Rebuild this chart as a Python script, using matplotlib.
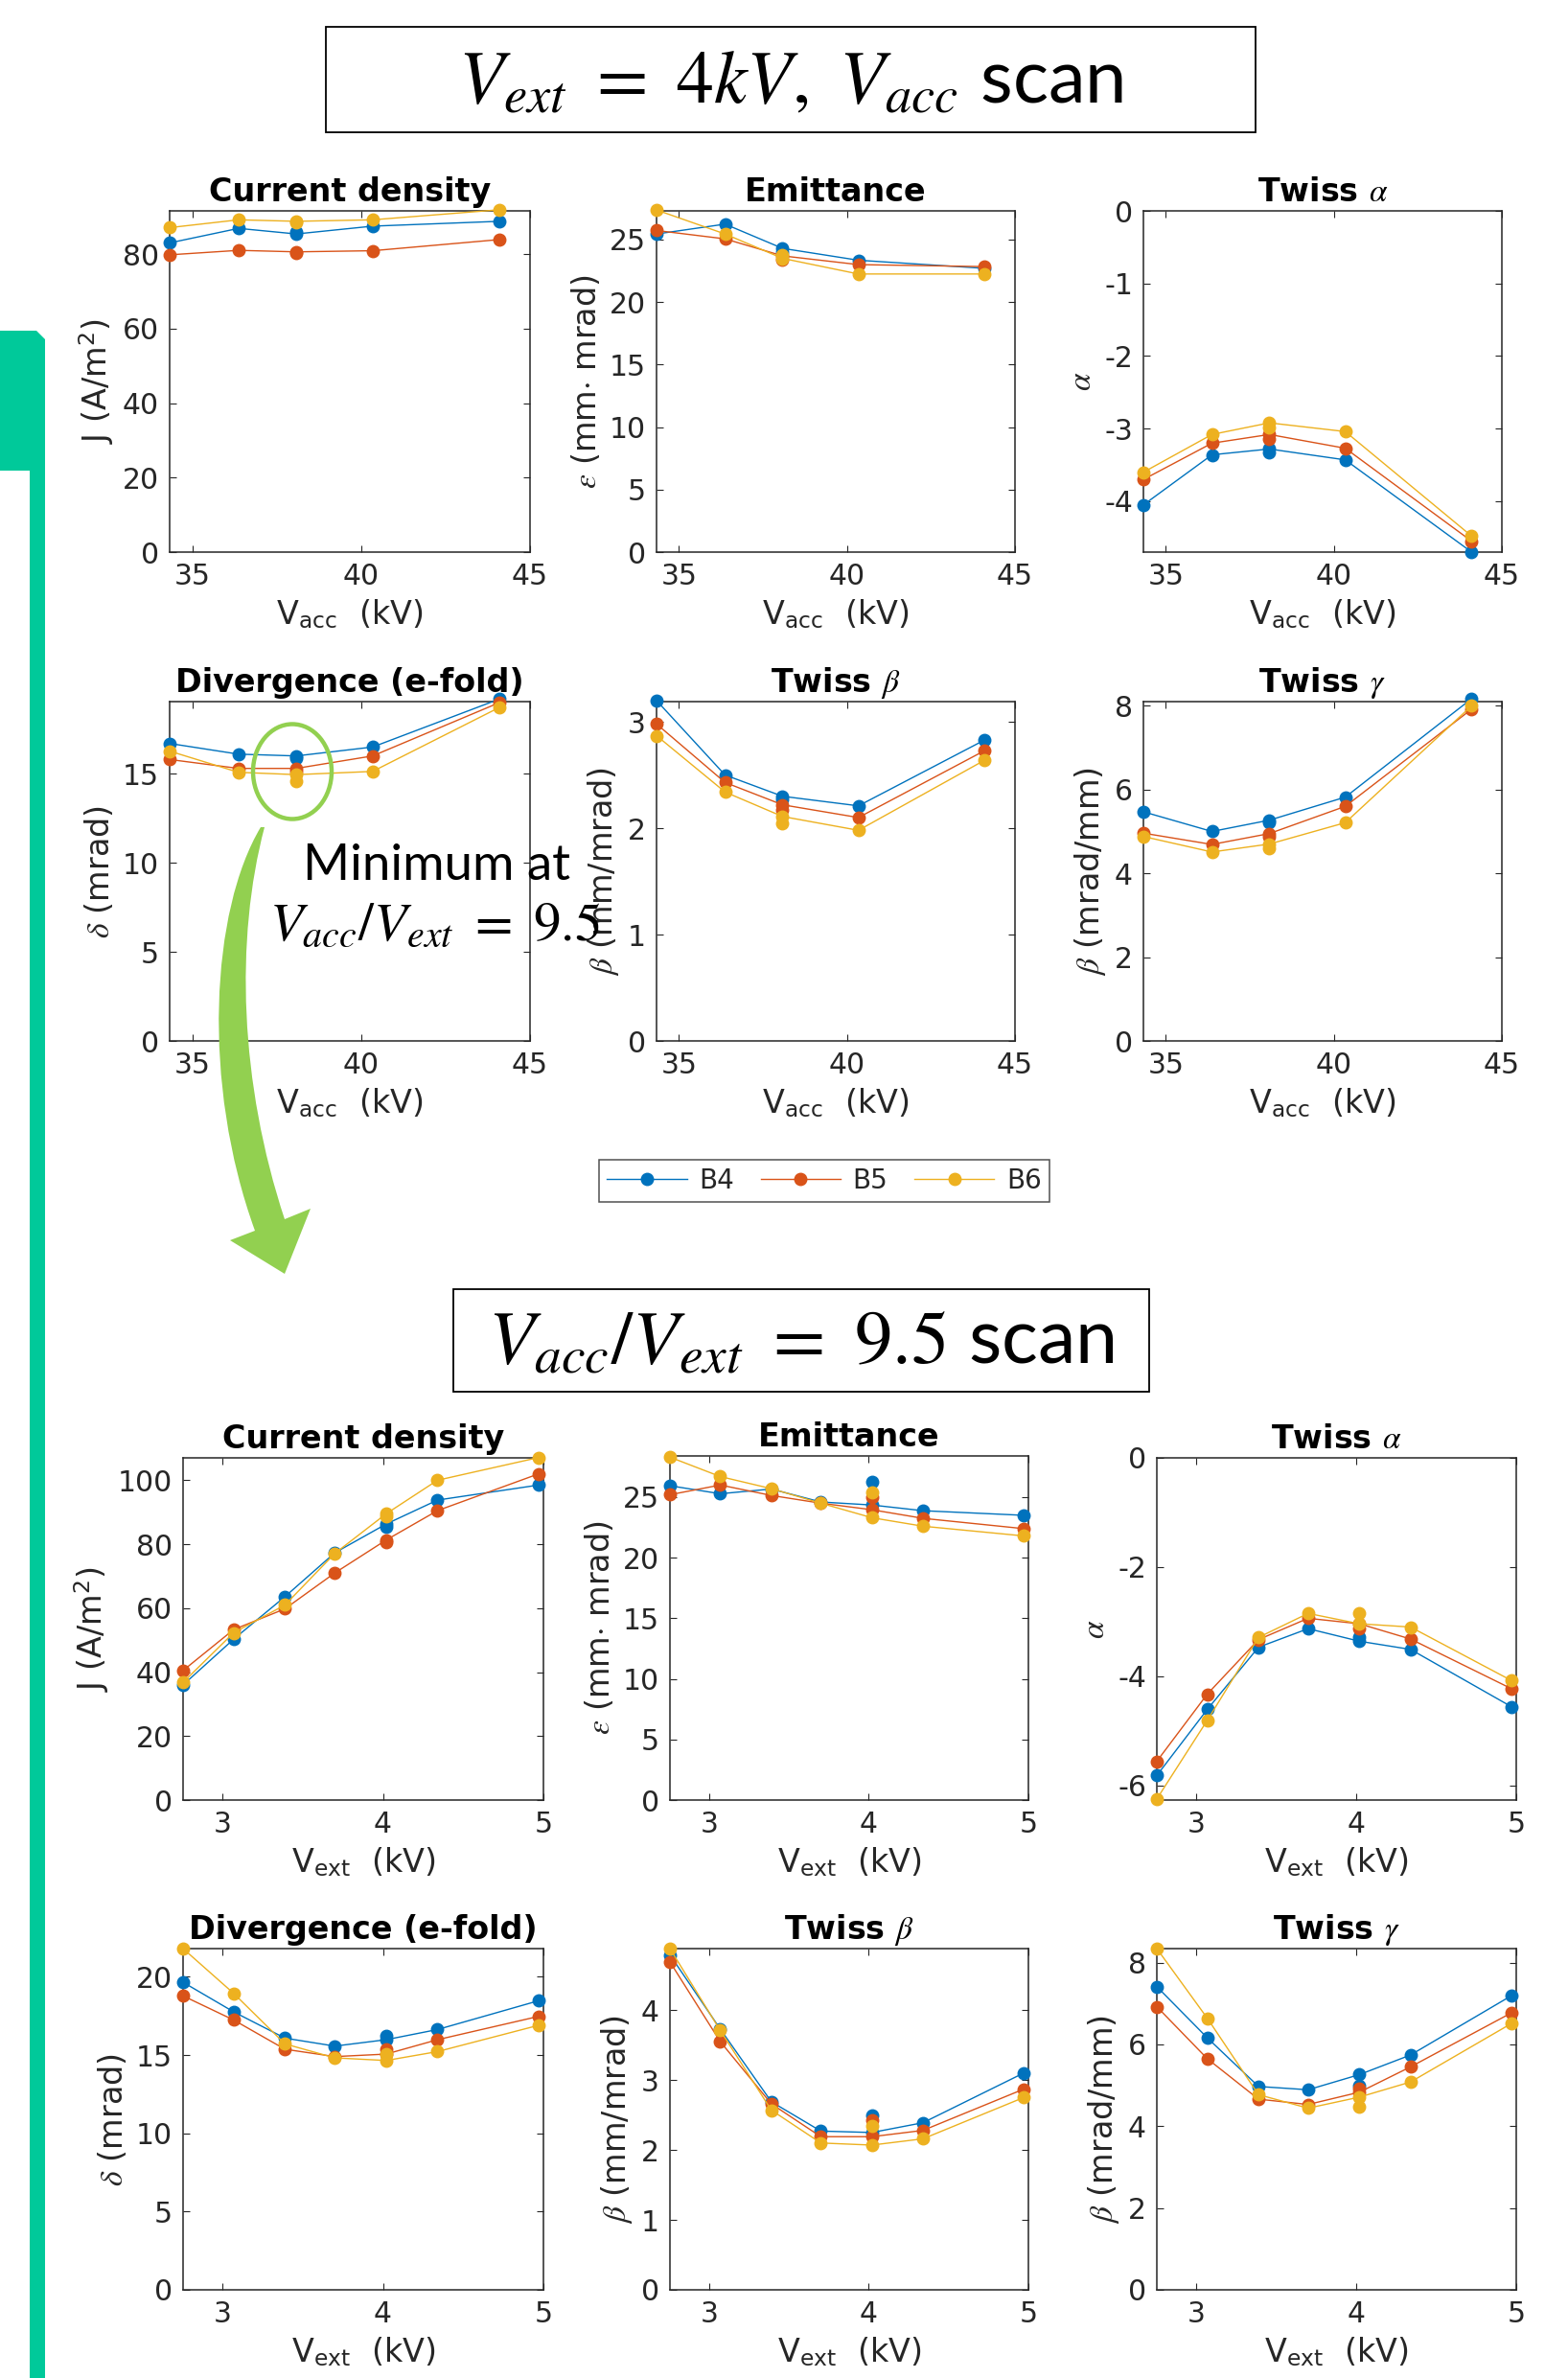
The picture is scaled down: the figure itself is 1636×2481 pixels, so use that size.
import matplotlib
matplotlib.use('Agg')
import matplotlib.pyplot as plt
from matplotlib.patches import Rectangle, Ellipse, PathPatch
from matplotlib.path import Path
from matplotlib.lines import Line2D

W, H = 1636, 2481
plt.rcParams['font.family'] = ['DejaVu Sans']
plt.rcParams['mathtext.fontset'] = 'stix'
plt.rcParams['axes.unicode_minus'] = False

series = ['B4', 'B5', 'B6']
colors = ['#0072BD', '#D95319', '#EDB120']

# ---------------- Vext = 4 kV, Vacc scan ----------------
vacc = [34.33, 36.37, 38.08, 40.34, 44.1]
vacc_rep_idx = 2
j_top = [[83.0, 86.9, 85.4, 87.5, 88.8], [79.8, 81.0, 80.6, 80.9, 83.9], [87.1, 89.2, 88.8, 89.2, 91.9]]
j_top_rep = [85.9, 80.4, 88.5]
em_top = [[25.45, 26.24, 24.3, 23.35, 22.7], [25.73, 25.06, 23.7, 23.0, 22.84], [27.37, 25.45, 23.5, 22.25, 22.25]]
em_top_rep = [24.0, 23.4, 23.75]
al_top = [[-4.05, -3.36, -3.28, -3.43, -4.7], [-3.7, -3.2, -3.08, -3.27, -4.55], [-3.6, -3.08, -2.92, -3.04, -4.48]]
al_top_rep = [-3.33, -3.14, -2.98]
dv_top = [[16.7, 16.1, 16.0, 16.5, 19.2], [15.8, 15.3, 15.3, 16.0, 19.0], [16.27, 15.08, 14.95, 15.13, 18.73]]
dv_top_rep = [15.85, 15.1, 14.6]
be_top = [[3.2, 2.5, 2.3, 2.21, 2.83], [2.98, 2.43, 2.22, 2.1, 2.73], [2.87, 2.34, 2.11, 1.98, 2.64]]
be_top_rep = [2.27, 2.17, 2.05]
ga_top = [[5.47, 5.0, 5.27, 5.82, 8.17], [4.96, 4.69, 4.95, 5.6, 7.92], [4.88, 4.51, 4.7, 5.21, 8.0]]
ga_top_rep = [5.22, 4.87, 4.6]

# ---------------- Vacc/Vext = 9.5 scan ----------------
vext = [2.755, 3.07, 3.39, 3.70, 4.02, 4.34, 4.97]
vext_rep_idx = 4
j_bot = [[36, 50.3, 63.6, 77.3, 86.3, 93.8, 98.5], [40.5, 53.3, 59.8, 71, 81.3, 90.5, 102], [36.8, 52.3, 61, 77.1, 89.5, 100, 107.1]]
j_bot_rep = [85.3, 80.5, 88.8]
em_bot = [[25.94, 25.28, 25.67, 24.6, 24.35, 23.88, 23.5], [25.2, 26.0, 25.14, 24.5, 23.96, 23.25, 22.4], [28.3, 26.7, 25.7, 24.5, 23.3, 22.6, 21.8]]
em_bot_rep = [26.25, 25.0, 25.4]
al_bot = [[-5.82, -4.61, -3.47, -3.13, -3.36, -3.51, -4.56], [-5.56, -4.33, -3.33, -2.94, -3.04, -3.32, -4.23], [-6.25, -4.81, -3.29, -2.85, -3.04, -3.1, -4.08]]
al_bot_rep = [-3.28, -3.13, -2.85]
dv_bot = [[19.65, 17.76, 16.08, 15.57, 15.98, 16.63, 18.47], [18.78, 17.24, 15.37, 14.9, 15.06, 15.98, 17.47], [21.8, 18.94, 15.71, 14.82, 14.65, 15.22, 16.9]]
dv_bot_rep = [16.24, 15.37, 15.06]
be_bot = [[4.79, 3.73, 2.69, 2.27, 2.25, 2.39, 3.1], [4.69, 3.55, 2.66, 2.19, 2.19, 2.28, 2.87], [4.88, 3.71, 2.57, 2.1, 2.07, 2.16, 2.75]]
be_bot_rep = [2.5, 2.43, 2.34]
ga_bot = [[7.41, 6.16, 4.97, 4.89, 5.26, 5.74, 7.19], [6.92, 5.65, 4.66, 4.53, 4.83, 5.45, 6.77], [8.34, 6.64, 4.77, 4.44, 4.71, 5.08, 6.51]]
ga_bot_rep = [4.98, 4.92, 4.48]

titles = ['Current density', 'Emittance', r'Twiss $\alpha$', 'Divergence (e-fold)', r'Twiss $\beta$', r'Twiss $\gamma$']
ylabels = ['J (A/m$^\\mathregular{2}$)', r'$\epsilon$ (mm$\cdot$ mrad)', r'$\alpha$', r'$\delta$ (mrad)', r'$\beta$ (mm/mrad)', r'$\beta$ (mrad/mm)']
xlabel_top = 'V$_\\mathregular{acc}$  (kV)'
xlabel_bot = 'V$_\\mathregular{ext}$  (kV)'

fig = plt.figure(figsize=(W / 100, H / 100), dpi=100)
GRAY = '#262626'


def add_ax(l, t, r, b):
    return fig.add_axes([l / W, 1 - b / H, (r - l) / W, (b - t) / H])


def panel(box, x, ys, reps, ri, title, ylabel, xlabel, xlim, xticks, ylim, yticks):
    ax = add_ax(*box)
    for y, rep, c in zip(ys, reps, colors):
        ax.plot([x[ri], x[ri]], [y[ri], rep], color=c, lw=1.0, zorder=2, clip_on=False)
        ax.plot(x, y, '-o', color=c, lw=1.0, ms=9, clip_on=False, zorder=3)
        ax.plot([x[ri]], [rep], 'o', color=c, ms=9, clip_on=False, zorder=3)
    ax.set_xlim(*xlim)
    ax.set_ylim(*ylim)
    ax.set_xticks(xticks)
    ax.set_yticks(yticks)
    ax.tick_params(direction='in', top=True, right=True, length=5, width=0.8,
                   colors=GRAY, labelsize=21.5, pad=8)
    for s in ax.spines.values():
        s.set_color(GRAY)
        s.set_linewidth(1.1)
    ax.set_title(title, fontsize=24, fontweight='bold', pad=7)
    ax.set_ylabel(ylabel, fontsize=24, color=GRAY, labelpad=5)
    ax.set_xlabel(xlabel, fontsize=24, color=GRAY, labelpad=6)
    return ax


top_boxes = [(177, 220, 553, 576), (685, 220, 1059, 576), (1193, 220, 1567, 576),
             (177, 732, 553, 1086), (685, 732, 1059, 1086), (1193, 732, 1567, 1086)]
bot_boxes = [(191, 1521, 567, 1878), (699, 1519, 1073, 1878), (1207, 1521, 1582, 1878),
             (191, 2033, 567, 2389), (699, 2033, 1073, 2389), (1207, 2033, 1582, 2389)]

top_data = [(j_top, j_top_rep), (em_top, em_top_rep), (al_top, al_top_rep),
            (dv_top, dv_top_rep), (be_top, be_top_rep), (ga_top, ga_top_rep)]
bot_data = [(j_bot, j_bot_rep), (em_bot, em_bot_rep), (al_bot, al_bot_rep),
            (dv_bot, dv_bot_rep), (be_bot, be_bot_rep), (ga_bot, ga_bot_rep)]

top_ylims = [(0, 91.6), (0, 27.3), (-4.7, 0), (0, 19.05), (0, 3.19), (0, 8.1)]
top_yticks = [[0, 20, 40, 60, 80], [0, 5, 10, 15, 20, 25], [-4, -3, -2, -1, 0], [0, 5, 10, 15], [0, 1, 2, 3], [0, 2, 4, 6, 8]]
bot_ylims = [(0, 107), (0, 28.4), (-6.27, 0), (0, 21.8), (0, 4.88), (0, 8.34)]
bot_yticks = [[0, 20, 40, 60, 80, 100], [0, 5, 10, 15, 20, 25], [-6, -4, -2, 0], [0, 5, 10, 15, 20], [0, 1, 2, 3, 4], [0, 2, 4, 6, 8]]

for i in range(6):
    panel(top_boxes[i], vacc, top_data[i][0], top_data[i][1], vacc_rep_idx, titles[i], ylabels[i],
          xlabel_top, (34.33, 45), [35, 40, 45], top_ylims[i], top_yticks[i])
    panel(bot_boxes[i], vext, bot_data[i][0], bot_data[i][1], vext_rep_idx, titles[i], ylabels[i],
          xlabel_bot, (2.755, 5.0), [3, 4, 5], bot_ylims[i], bot_yticks[i])

# legend
handles = [Line2D([], [], color=c, marker='o', lw=1.0, ms=9) for c in colors]
leg = fig.legend(handles, series, loc='center', bbox_to_anchor=(860 / W, 1 - 1232 / H), ncol=3,
                 fontsize=20, frameon=True, fancybox=False, handlelength=3.0, columnspacing=1.0,
                 handletextpad=0.45, borderpad=0.3, numpoints=1)
leg.get_frame().set_edgecolor(GRAY)
leg.get_frame().set_linewidth(1.1)
for t in leg.get_texts():
    t.set_color(GRAY)


def P(x, y):
    return (x / W, 1 - y / H)


# title boxes
for (l, t, r, b) in [(340, 28, 1310, 138), (473, 1345, 1199, 1452)]:
    fig.patches.append(Rectangle(P(l, b), (r - l) / W, (b - t) / H, transform=fig.transFigure,
                                 fill=False, edgecolor='black', lw=1.3))
fig.text(*P(825, 86), r'$V_{ext}\ =\ 4kV,\ V_{acc}$ scan', fontsize=56, ha='center', va='center',
         family=['Lato', 'DejaVu Sans'])
fig.text(*P(836, 1400), r'$V_{acc}/V_{ext}\ =\ 9.5$ scan', fontsize=57, ha='center', va='center',
         family=['Lato', 'DejaVu Sans'])

# teal side bar
teal = '#00C99A'
bar = [(0, 345), (38, 345), (47, 354), (47, 2481), (31, 2481), (31, 491), (0, 491), (0, 345)]
fig.patches.append(PathPatch(Path([P(*p) for p in bar]), transform=fig.transFigure,
                             facecolor=teal, edgecolor='none'))

# green ellipse + curved arrow
green = '#92D050'
fig.patches.append(Ellipse(P(305, 805), 82 / W, 99 / H, transform=fig.transFigure,
                           fill=False, edgecolor=green, lw=3.2, zorder=10))
verts = [P(272, 863), P(220, 950), P(210, 1130), P(266, 1284),
         P(240, 1294), P(297, 1329), P(324, 1261), P(297, 1272),
         P(250, 1130), P(245, 980), P(276, 863), P(272, 863)]
codes = [Path.MOVETO, Path.CURVE4, Path.CURVE4, Path.CURVE4,
         Path.LINETO, Path.LINETO, Path.LINETO, Path.LINETO,
         Path.CURVE4, Path.CURVE4, Path.CURVE4, Path.CLOSEPOLY]
fig.patches.append(PathPatch(Path(verts, codes), transform=fig.transFigure,
                             facecolor=green, edgecolor='none', zorder=10))

fig.text(*P(316, 918), 'Minimum at', fontsize=38, ha='left', va='baseline',
         family=['Lato', 'DejaVu Sans'], zorder=20)
fig.text(*P(281, 980), r'$V_{acc}/V_{ext}\ =\ 9.5$', fontsize=41, ha='left', va='baseline', zorder=20)

fig.savefig('out.png', dpi=100)
